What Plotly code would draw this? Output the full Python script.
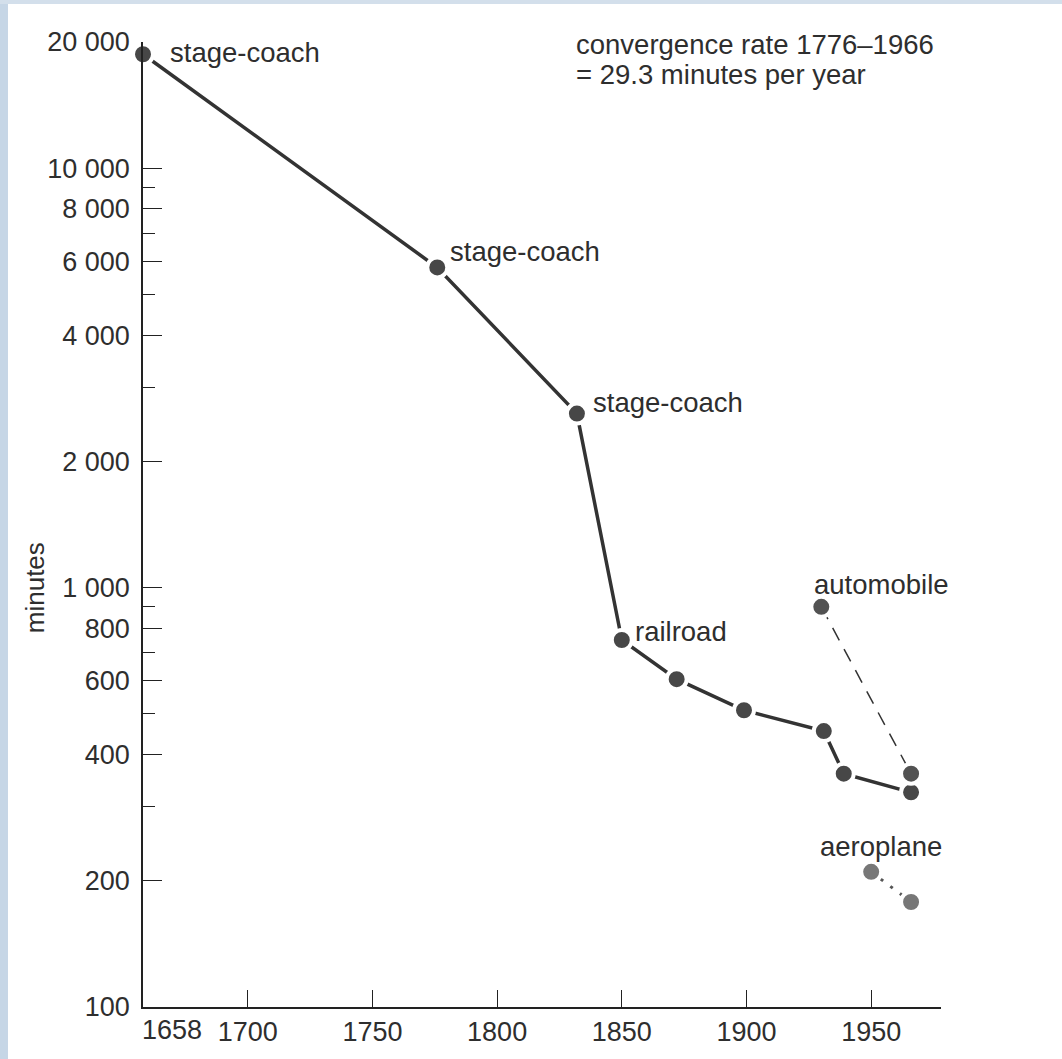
import math
import plotly.graph_objects as go

# Travel time between the two cities, in minutes, by year
main_years = [1658, 1776, 1832, 1850, 1872, 1899, 1931, 1939, 1966]
main_minutes = [18700, 5800, 2600, 750, 605, 510, 455, 360, 325]

auto_years = [1930, 1966]
auto_minutes = [900, 360]

air_years = [1950, 1966]
air_minutes = [210, 178]

# Axis ticks
x_ticks = [1700, 1750, 1800, 1850, 1900, 1950]
y_major = [100, 200, 400, 600, 800, 1000, 2000, 4000, 6000, 8000, 10000, 20000]
y_major_text = ["100", "200", "400", "600", "800", "1 000", "2 000", "4 000",
                "6 000", "8 000", "10 000", "20 000"]
y_minor = [300, 500, 700, 900, 3000, 5000, 7000, 9000]

# Point labels: (year, minutes, text, anchor, xshift, yshift)
point_labels = [
    (1658, 18700, "stage-coach", "left", 25, 2),
    (1776, 5800, "stage-coach", "left", 11, 16),
    (1832, 2600, "stage-coach", "left", 14, 11),
    (1850, 750, "railroad", "left", 11, 9),
    (1930, 900, "automobile", "center", 60, 22),
    (1950, 210, "aeroplane", "center", 10, 25),
]

FONT = "Liberation Sans, Arial, Helvetica, sans-serif"
INK = "#2e2e2e"
FS = 27
FS_TEXT = 27.5

fig = go.Figure()

fig.add_trace(go.Scatter(
    x=main_years, y=main_minutes, mode="lines+markers",
    line=dict(color="#333333", width=3.5),
    marker=dict(size=20, color="#474747", line=dict(color="white", width=4)),
    showlegend=False, cliponaxis=False,
))
fig.add_trace(go.Scatter(
    x=auto_years, y=auto_minutes, mode="lines+markers",
    line=dict(color="#333333", width=1.5, dash="14px,10px"),
    marker=dict(size=20, color="#525252", line=dict(color="white", width=4)),
    showlegend=False, cliponaxis=False,
))
fig.add_trace(go.Scatter(
    x=air_years, y=air_minutes, mode="lines+markers",
    line=dict(color="#555555", width=3, dash="3px,9px"),
    marker=dict(size=20, color="#777777", line=dict(color="white", width=4)),
    showlegend=False, cliponaxis=False,
))

annotations = []
for yr, val, txt, anc, dx, dy in point_labels:
    annotations.append(dict(
        x=yr, y=math.log10(val), xref="x", yref="y", text=txt, showarrow=False,
        xanchor=anc, yanchor="middle", xshift=dx, yshift=dy,
        font=dict(family=FONT, size=FS_TEXT, color=INK),
    ))

# Year label at the axis origin
annotations.append(dict(
    x=1658, y=0, xref="x", yref="paper", text="1658", showarrow=False,
    xanchor="center", yanchor="top", xshift=29, yshift=-6,
    font=dict(family=FONT, size=FS, color=INK),
))

# Axis title
annotations.append(dict(
    x=-0.1353, y=0.434, xref="paper", yref="paper", text="minutes", showarrow=False,
    textangle=-90, xanchor="center", yanchor="middle",
    font=dict(family=FONT, size=26, color=INK),
))

# Rate note, two lines
for line_text, ypix in [("convergence rate 1776\u20131966", 45), ("= 29.3 minutes per year", 75)]:
    annotations.append(dict(
        x=0.5405, y=(1011 - ypix) / 969, xref="paper", yref="paper",
        text=line_text, showarrow=False, xanchor="left", yanchor="middle",
        font=dict(family=FONT, size=FS_TEXT, color=INK),
    ))

# Pale blue page border along the left and top edges
shapes = [
    dict(type="rect", xref="paper", yref="paper", x0=-0.1792, x1=-0.1692, y0=-0.06, y1=1.05,
         fillcolor="#c6d6e6", line=dict(width=0), layer="below"),
    dict(type="rect", xref="paper", yref="paper", x0=-0.1792, x1=1.16, y0=1.0393, y1=1.05,
         fillcolor="#d3dfeb", line=dict(width=0), layer="below"),
]

fig.update_layout(
    width=1062, height=1059,
    margin=dict(l=143, r=121, t=42, b=48),
    paper_bgcolor="white", plot_bgcolor="white",
    annotations=annotations, shapes=shapes,
    font=dict(family=FONT, size=FS, color=INK),
)

fig.update_xaxes(
    range=[1658, 1978], showgrid=False, zeroline=False,
    showline=True, linecolor="#222222", linewidth=1.5,
    ticks="inside", ticklen=17, tickwidth=1.3, tickcolor="#222222",
    tickvals=x_ticks, ticktext=[str(v) for v in x_ticks],
    tickfont=dict(family=FONT, size=FS, color=INK),
)

fig.update_yaxes(
    type="log", range=[2, math.log10(20000)], showgrid=False, zeroline=False,
    showline=True, linecolor="#222222", linewidth=1.5,
    ticks="inside", ticklen=19, tickwidth=1.3, tickcolor="#222222",
    tickvals=y_major, ticktext=y_major_text,
    tickfont=dict(family=FONT, size=FS, color=INK),
    ticklabelstandoff=6,
    minor=dict(tickvals=y_minor, ticks="inside", ticklen=12, tickwidth=1.3,
               tickcolor="#222222", showgrid=False),
)

fig.write_html("out.html")
